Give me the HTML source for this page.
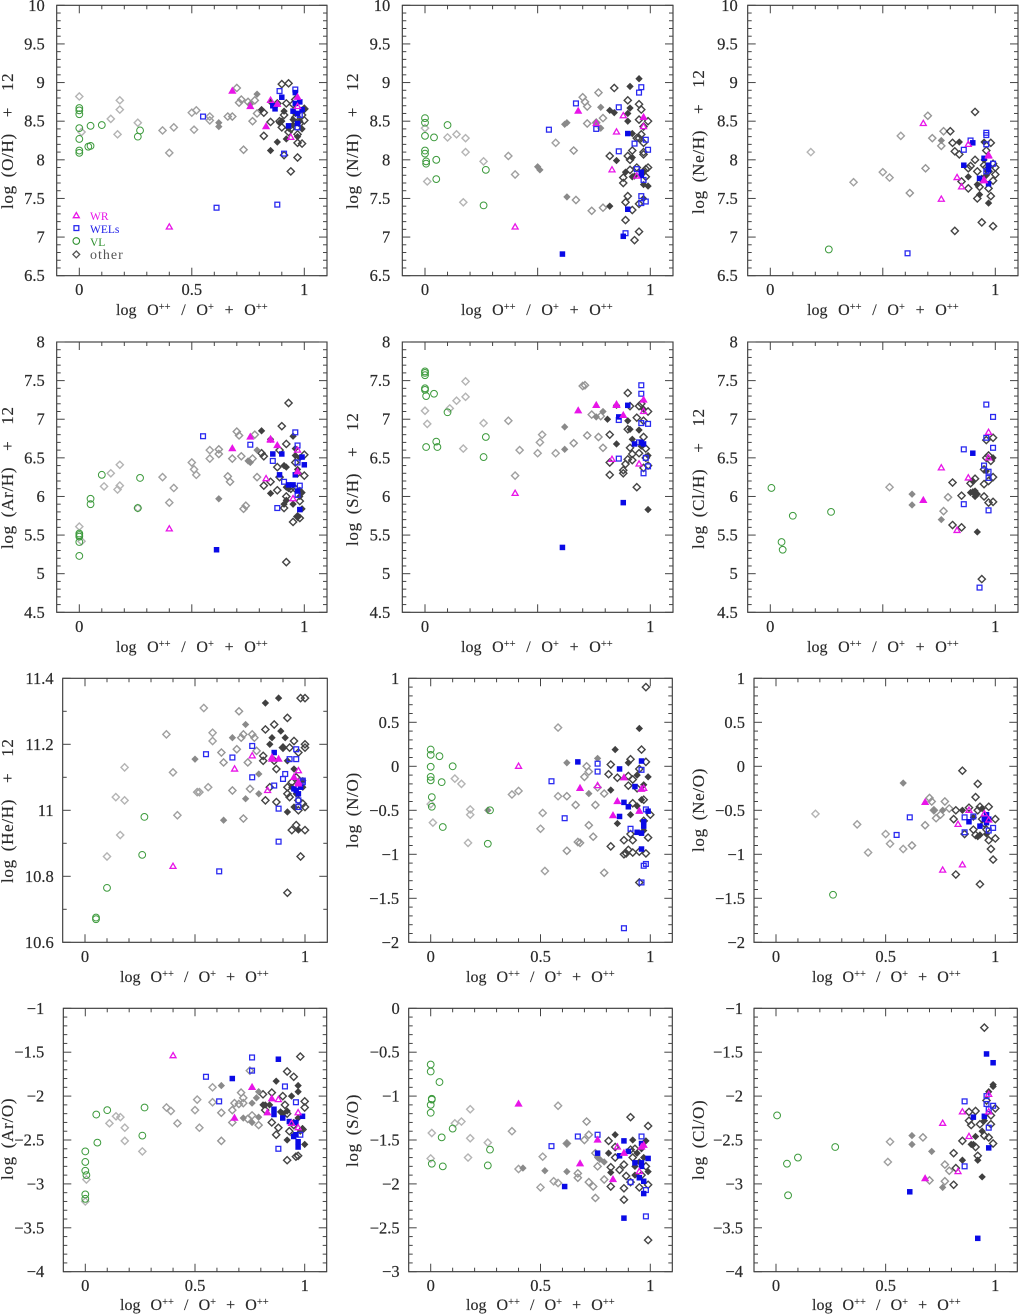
<!DOCTYPE html>
<html lang="en">
<head>
<meta charset="utf-8">
<title>Abundance ratios versus ionization parameter</title>
<style>
html,body{margin:0;padding:0;background:#fff;width:1019px;height:1314px;overflow:hidden}
svg{display:block}
text{font-family:"Liberation Serif",serif;fill:#2a2a2a}
.t{font-size:16.5px;stroke:#2a2a2a;stroke-width:.2}
.xl{font-size:16px;word-spacing:6.7px;stroke:#2a2a2a;stroke-width:.15}
.xs{font-size:16px;word-spacing:6.1px;stroke:#2a2a2a;stroke-width:.15}
.yl{font-size:17px;letter-spacing:.7px;word-spacing:3px;stroke:#2a2a2a;stroke-width:.15}
.sup{font-size:10.5px}
.lg{font-size:11.5px}
.lg2{font-size:14px;letter-spacing:1px}
</style>
</head>
<body>
<svg id="chart" xmlns="http://www.w3.org/2000/svg" width="1019" height="1314" viewBox="0 0 1019 1314" xml:space="preserve">
<g>
<text class="xl" x="116" y="315">log O<tspan class="sup" dy="-5">++</tspan><tspan dy="5"> / O</tspan><tspan class="sup" dy="-5">+</tspan><tspan dy="5"> + O</tspan><tspan class="sup" dy="-5">++</tspan></text>
<text class="xl" x="461" y="315">log O<tspan class="sup" dy="-5">++</tspan><tspan dy="5"> / O</tspan><tspan class="sup" dy="-5">+</tspan><tspan dy="5"> + O</tspan><tspan class="sup" dy="-5">++</tspan></text>
<text class="xl" x="807" y="315">log O<tspan class="sup" dy="-5">++</tspan><tspan dy="5"> / O</tspan><tspan class="sup" dy="-5">+</tspan><tspan dy="5"> + O</tspan><tspan class="sup" dy="-5">++</tspan></text>
<text class="xl" x="116" y="652">log O<tspan class="sup" dy="-5">++</tspan><tspan dy="5"> / O</tspan><tspan class="sup" dy="-5">+</tspan><tspan dy="5"> + O</tspan><tspan class="sup" dy="-5">++</tspan></text>
<text class="xl" x="461" y="652">log O<tspan class="sup" dy="-5">++</tspan><tspan dy="5"> / O</tspan><tspan class="sup" dy="-5">+</tspan><tspan dy="5"> + O</tspan><tspan class="sup" dy="-5">++</tspan></text>
<text class="xl" x="807" y="652">log O<tspan class="sup" dy="-5">++</tspan><tspan dy="5"> / O</tspan><tspan class="sup" dy="-5">+</tspan><tspan dy="5"> + O</tspan><tspan class="sup" dy="-5">++</tspan></text>
<text class="xs" x="120" y="982">log O<tspan class="sup" dy="-5">++</tspan><tspan dy="5"> / O</tspan><tspan class="sup" dy="-5">+</tspan><tspan dy="5"> + O</tspan><tspan class="sup" dy="-5">++</tspan></text>
<text class="xs" x="466" y="982">log O<tspan class="sup" dy="-5">++</tspan><tspan dy="5"> / O</tspan><tspan class="sup" dy="-5">+</tspan><tspan dy="5"> + O</tspan><tspan class="sup" dy="-5">++</tspan></text>
<text class="xs" x="812" y="982">log O<tspan class="sup" dy="-5">++</tspan><tspan dy="5"> / O</tspan><tspan class="sup" dy="-5">+</tspan><tspan dy="5"> + O</tspan><tspan class="sup" dy="-5">++</tspan></text>
<text class="xs" x="120" y="1310">log O<tspan class="sup" dy="-5">++</tspan><tspan dy="5"> / O</tspan><tspan class="sup" dy="-5">+</tspan><tspan dy="5"> + O</tspan><tspan class="sup" dy="-5">++</tspan></text>
<text class="xs" x="466" y="1310">log O<tspan class="sup" dy="-5">++</tspan><tspan dy="5"> / O</tspan><tspan class="sup" dy="-5">+</tspan><tspan dy="5"> + O</tspan><tspan class="sup" dy="-5">++</tspan></text>
<text class="xs" x="812" y="1310">log O<tspan class="sup" dy="-5">++</tspan><tspan dy="5"> / O</tspan><tspan class="sup" dy="-5">+</tspan><tspan dy="5"> + O</tspan><tspan class="sup" dy="-5">++</tspan></text>

<text class="yl" transform="translate(13,209) rotate(-90)">log (O/H)&#160;&#160;+&#160;&#160;12</text>
<text class="yl" transform="translate(358,209) rotate(-90)">log (N/H)&#160;&#160;+&#160;&#160;12</text>
<text class="yl" transform="translate(704,214) rotate(-90)">log (Ne/H)&#160;&#160;+&#160;&#160;12</text>
<text class="yl" transform="translate(13,549) rotate(-90)">log (Ar/H)&#160;&#160;+&#160;&#160;12</text>
<text class="yl" transform="translate(358,546) rotate(-90)">log (S/H)&#160;&#160;+&#160;&#160;12</text>
<text class="yl" transform="translate(704,549) rotate(-90)">log (Cl/H)&#160;&#160;+&#160;&#160;12</text>
<text class="yl" transform="translate(13,883) rotate(-90)">log (He/H)&#160;&#160;+&#160;&#160;12</text>
<text class="yl" transform="translate(358,848) rotate(-90)">log (N/O)</text>
<text class="yl" transform="translate(704,852) rotate(-90)">log (Ne/O)</text>
<text class="yl" transform="translate(13,1180) rotate(-90)">log (Ar/O)</text>
<text class="yl" transform="translate(358,1167) rotate(-90)">log (S/O)</text>
<text class="yl" transform="translate(704,1180) rotate(-90)">log (Cl/O)</text>
</g>
<g>
<polygon points="76.3,212.5 79.3,217.7 73.3,217.7" fill="none" stroke="#e815e8" stroke-width="1.3"/>
<text class="lg" x="90" y="220" style="fill:#e815e8">WR</text>
<rect x="74" y="225.7" width="4.8" height="4.8" fill="none" stroke="#2a2af0" stroke-width="1.3"/>
<text class="lg" x="90" y="233" style="fill:#2020e8">WELs</text>
<circle cx="76.3" cy="241" r="3.3" fill="none" stroke="#2d8f2d" stroke-width="1.1"/>
<text class="lg" x="90" y="246" style="fill:#2d8f2d">VL</text>
<polygon points="76.3,251 79.7,254.4 76.3,257.8 72.9,254.4" fill="none" stroke="#555" stroke-width="1.3"/>
<text class="lg2" x="90" y="259" style="fill:#555">other</text>
</g>
<g id="plots"></g>
</svg>
<script>
// ---- Tick values ----
const xTicksFull = [0, 0.5, 1];
const xTicksEnds = [0, 1];
const yTicksHigh = [6.5, 7, 7.5, 8, 8.5, 9, 9.5, 10];
const yTicksMid = [4.5, 5, 5.5, 6, 6.5, 7, 7.5, 8];
const yTicksHe = [10.6, 10.8, 11, 11.2, 11.4];
const yTicksNO = [-2, -1.5, -1, -0.5, 0, 0.5, 1];
const yTicksArO = [-4, -3.5, -3, -2.5, -2, -1.5, -1];
const yTicksSO = [-3, -2.5, -2, -1.5, -1, -0.5, 0];

// ---- log(O/H)+12 ----
const ohVL = [[0,8.67],[0,8.64],[0,8.59],[0,8.41],[0,8.27],[0,8.12],[0,8.09],[0.04,8.17],[0.05,8.18],[0.05,8.44],[0.1,8.45],[0.26,8.3],[0.27,8.38]];
const ohOpen = [[0,8.82],[0.01,8.36],[0.14,8.53],[0.17,8.33],[0.18,8.77],[0.18,8.65],[0.26,8.48],[0.37,8.38],[0.4,8.09],[0.42,8.42],[0.5,8.61],[0.51,8.39],[0.52,8.64],[0.58,8.56],[0.58,8.51],[0.66,8.56],[0.68,8.56],[0.7,8.93],[0.71,8.74],[0.72,8.78],[0.73,8.13],[0.75,8.75],[0.77,8.5],[0.78,8.77],[0.79,8.6],[0.82,8.61],[0.82,8.31],[0.85,8.49],[0.9,8.98],[0.93,8.99],[0.91,8.06],[0.97,8.03],[0.94,7.85],[0.88,8.73],[0.92,8.73],[0.91,8.58],[0.94,8.4],[0.93,8.36],[0.96,8.78],[0.96,8.55],[0.97,8.33],[0.97,8.22],[0.99,8.21],[1,8.66],[1,8.51],[0.99,8.58],[0.95,8.72],[0.9,8.42],[0.89,8.5],[0.98,8.47]];
const ohFilled = [[0.62,8.48],[0.62,8.43],[0.79,8.85],[0.76,8.72],[0.81,8.65],[0.85,8.75],[0.85,8.12],[0.88,8.23],[0.89,8.48],[0.91,8.63],[0.92,8.27],[0.9,8.5],[0.95,8.45],[0.96,8.6],[0.98,8.5],[0.99,8.4],[0.97,8.3],[0.93,8.41],[1,8.65],[0.95,8.52]];
const ohBlueOpen = [[0.55,8.56],[0.61,7.38],[0.88,7.42],[0.89,8.89],[0.96,8.91],[0.91,8.08],[0.97,8.42],[0.98,8.58]];
const ohBlueFilled = [[0.9,8.81],[0.86,8.7],[0.87,8.66],[0.93,8.44],[0.95,8.63],[0.96,8.87],[0.97,8.6],[0.98,8.75],[0.99,8.65],[0.97,8.47],[0.96,8.73]];
const ohMagOpen = [[0.4,7.13],[0.85,8.77],[0.94,8.29],[0.97,8.69]];
const ohMagFilled = [[0.68,8.89],[0.76,8.69],[0.83,8.43],[0.88,8.72],[0.97,8.81]];

// ---- log(N/H)+12 ----
const nhVL = [[0,8.54],[0,8.48],[0,8.31],[0,8.12],[0,8.08],[0.005,7.98],[0.005,7.95],[0.04,8.29],[0.05,8],[0.05,7.75],[0.1,8.45],[0.26,7.41],[0.27,7.87]];
const nhOpen = [[0,8.41],[0.01,7.72],[0.1,8.29],[0.14,8.33],[0.17,7.45],[0.18,8.28],[0.18,8.1],[0.26,7.98],[0.37,8.05],[0.4,7.81],[0.58,8.22],[0.66,8.12],[0.67,7.48],[0.7,8.81],[0.71,8.75],[0.72,8.69],[0.72,8.47],[0.74,7.34],[0.76,8.48],[0.77,8.87],[0.79,7.38],[0.79,8.54],[0.82,8.05],[0.84,8.93],[0.88,7.77],[0.88,7.7],[0.89,7.45],[0.89,7.22],[0.9,7.53],[0.9,8.05],[0.9,8.77],[0.92,7.35],[0.92,8.12],[0.94,8.28],[0.95,8.72],[0.96,8.65],[0.93,6.96],[0.95,7.07],[0.95,7.43],[0.99,8.5],[0.95,8.52],[0.97,8.43],[0.96,8.33],[0.97,8.1],[0.98,7.88],[0.99,7.9],[0.97,8.07],[0.94,7.9],[0.91,7.87],[0.91,8],[0.98,7.78],[0.95,8.28],[0.97,8.22]];
const nhFilled = [[0.5,7.91],[0.51,7.87],[0.62,8.46],[0.63,8.48],[0.63,7.52],[0.76,8.49],[0.78,8.41],[0.78,8.68],[0.82,8.64],[0.84,8.61],[0.85,7.99],[0.82,7.4],[0.9,8.6],[0.9,8.5],[0.91,8.67],[0.91,8.95],[0.95,9.05],[0.92,8.34],[0.89,7.84],[0.92,8.03],[0.92,7.78],[0.97,7.68],[0.99,7.66],[0.97,7.5],[0.93,7.79],[0.97,7.85]];
const nhBlueOpen = [[0.55,8.39],[0.67,8.73],[0.76,8.4],[0.86,8.68],[0.86,8.11],[0.89,7.05],[0.93,8.21],[0.95,8.87],[0.96,8.94],[0.98,8.26],[0.99,8.13],[0.94,7.88],[0.97,7.74],[0.96,7.53],[0.98,7.46],[0.96,7.44]];
const nhBlueFilled = [[0.61,6.78],[0.88,7.01],[0.9,7.36],[0.9,8.34],[0.96,7.84],[0.96,7.8]];
const nhMagOpen = [[0.4,7.13],[0.76,8.47],[0.85,8.36],[0.88,8.57],[0.83,7.87],[0.94,7.79],[0.97,8.43]];
const nhMagFilled = [[0.68,8.63],[0.97,8.55]];

// ---- log(Ne/H)+12 ----
const nehVL = [[0.26,6.84]];
const nehOpen = [[0.18,8.1],[0.37,7.71],[0.5,7.84],[0.53,7.77],[0.58,8.31],[0.62,7.57],[0.69,7.89],[0.7,8.57],[0.72,8.28],[0.76,8.18],[0.77,8.37],[0.8,8.37],[0.81,8.22],[0.82,8.11],[0.84,8.07],[0.85,7.72],[0.82,7.08],[0.88,7.63],[0.88,7.89],[0.89,7.92],[0.91,8],[0.92,7.85],[0.92,7.5],[0.93,7.65],[0.94,7.19],[0.91,8.62],[0.95,7.93],[0.96,7.9],[0.97,7.63],[0.98,7.53],[0.99,7.14],[0.99,7.73],[0.99,7.95],[1,7.9],[1,7.81],[0.98,8.22],[0.96,8.12],[0.97,7.85],[0.94,7.75]];
const nehFilled = [[0.76,8.25],[0.84,8.23],[0.88,7.78],[0.92,7.68],[0.93,7.55],[0.95,8.23],[0.96,7.8],[0.97,7.44],[0.95,8]];
const nehBlueOpen = [[0.61,6.79],[0.86,8.13],[0.89,8.25],[0.96,8.35],[0.96,8.32],[0.96,8.2],[0.99,7.95],[0.96,7.85]];
const nehBlueFilled = [[0.86,7.93],[0.9,8.22],[0.93,7.76],[0.95,8.02],[0.97,7.93],[0.97,7.87],[0.97,7.69]];
const nehMagOpen = [[0.68,8.47],[0.76,7.49],[0.83,7.77],[0.85,7.65],[0.88,8.2],[0.95,7.74],[0.97,8.05]];
const nehMagFilled = [[0.97,8.06],[0.95,7.73]];

// ---- log(Ar/H)+12 ----
const arhVL = [[0,5.52],[0,5.5],[0,5.48],[0,5.41],[0,5.23],[0.05,5.97],[0.05,5.9],[0.1,6.28],[0.26,5.85],[0.27,6.24]];
const arhOpen = [[0,5.61],[0.01,5.42],[0.11,6.13],[0.14,6.3],[0.17,6.09],[0.18,6.41],[0.18,6.14],[0.26,5.85],[0.37,6.25],[0.4,5.92],[0.42,6.11],[0.5,6.44],[0.51,6.35],[0.52,6.28],[0.58,6.49],[0.58,6.6],[0.62,6.61],[0.62,6.55],[0.66,6.26],[0.67,6.19],[0.68,6.49],[0.7,6.84],[0.71,6.79],[0.72,6.52],[0.73,5.84],[0.74,5.88],[0.77,6.49],[0.78,6.8],[0.79,6.25],[0.81,6.56],[0.82,6.52],[0.82,6.14],[0.85,6.19],[0.88,6.38],[0.88,6.08],[0.89,6.25],[0.9,6.91],[0.92,6.68],[0.93,7.21],[0.92,5.15],[0.91,5.85],[0.92,6],[0.95,5.67],[0.96,6.44],[0.97,6.3],[0.98,5.94],[1,6.27],[1,6.54],[0.97,5.74],[0.96,6.1],[0.94,6.1],[0.89,6.6],[0.98,5.72]];
const arhFilled = [[0.62,5.97],[0.76,6.44],[0.75,6.46],[0.79,6.6],[0.81,6.85],[0.85,6.74],[0.85,6.04],[0.91,6.4],[0.92,6.38],[0.92,6.12],[0.91,5.9],[0.92,5.95],[0.95,5.9],[0.95,6.78],[0.96,6.62],[0.96,6.53],[0.98,6.5],[0.98,6.08],[0.99,6.05],[0.99,5.84],[0.97,5.74],[0.98,6],[0.97,6.35],[0.93,6.1]];
const arhBlueOpen = [[0.55,6.78],[0.76,6.67],[0.86,6.46],[0.88,5.85],[0.91,6.19],[0.96,6.83],[0.97,6.66],[0.97,6.44],[0.98,6.14],[0.97,6.02]];
const arhBlueFilled = [[0.61,5.31],[0.86,6.55],[0.89,6.28],[0.9,6.55],[0.93,6.15],[0.95,6.15],[0.96,6.28],[0.97,6.07],[0.98,5.83],[0.99,6.51],[1,6.41]];
const arhMagOpen = [[0.4,5.58],[0.83,6.23],[0.85,6.74],[0.95,5.97],[0.97,6.6]];
const arhMagFilled = [[0.68,6.62],[0.76,6.77],[0.88,6.66],[0.97,6.32],[0.85,6.73]];

// ---- log(S/H)+12 ----
const shVL = [[0,7.62],[0,7.6],[0,7.57],[0,7.4],[0,7.38],[0.005,7.3],[0.04,7.33],[0.005,6.64],[0.05,6.71],[0.055,6.64],[0.1,7.09],[0.26,6.51],[0.27,6.77]];
const shOpen = [[0,7.11],[0.01,6.94],[0.11,7.14],[0.14,7.24],[0.17,6.62],[0.18,7.29],[0.18,7.49],[0.26,6.95],[0.37,6.98],[0.4,6.27],[0.42,6.6],[0.5,6.56],[0.51,6.7],[0.52,6.8],[0.58,6.56],[0.66,6.69],[0.7,7.43],[0.71,7.44],[0.72,6.79],[0.74,7.06],[0.77,6.77],[0.79,6.63],[0.78,7.04],[0.82,6.8],[0.82,6.44],[0.82,6.28],[0.88,6.34],[0.88,6.3],[0.89,6.42],[0.9,6.48],[0.9,6.87],[0.9,7.34],[0.91,7.17],[0.92,6.55],[0.92,6.47],[0.91,6.63],[0.94,7.02],[0.95,7.17],[0.95,6.56],[0.94,6.12],[0.97,6.37],[0.97,6.77],[0.97,6.98],[0.98,6.62],[0.99,7.1],[0.99,6.4],[0.96,7.2],[0.98,6.5]];
const shFilled = [[0.62,6.9],[0.62,6.61],[0.76,7.03],[0.79,7.1],[0.81,7],[0.85,6.68],[0.85,7.18],[0.9,6.98],[0.91,6.87],[0.92,6.74],[0.95,6.86],[0.96,6.65],[0.99,6.53],[0.99,5.83],[0.97,7.13]];
const shBlueOpen = [[0.86,6.49],[0.86,6.99],[0.96,7.44],[0.96,7.33],[0.96,6.95],[0.97,6.3],[0.98,6.5],[0.99,6.94],[0.99,6.39],[0.95,6.7]];
const shBlueFilled = [[0.61,5.34],[0.88,5.92],[0.86,7.03],[0.9,7.18],[0.93,6.68],[0.96,6.7],[0.97,6.68]];
const shMagOpen = [[0.4,6.04],[0.83,6.48],[0.85,7.18],[0.95,6.42],[0.97,7.1]];
const shMagFilled = [[0.68,7.11],[0.76,7.18],[0.88,7.05],[0.97,7.25],[0.85,7.19]];

// ---- log(Cl/H)+12 ----
const clhVL = [[0.005,6.11],[0.05,5.41],[0.055,5.31],[0.1,5.75],[0.27,5.8]];
const clhOpen = [[0.53,6.12],[0.77,5.81],[0.79,5.99],[0.81,5.63],[0.81,6.18],[0.85,6.01],[0.85,5.6],[0.89,6.17],[0.91,6.23],[0.94,4.93],[0.95,6],[0.95,6.16],[0.96,6.5],[0.96,6.73],[0.97,5.92],[0.99,5.93],[0.99,6.25],[0.99,6.76],[0.97,6.2],[0.95,6.35],[0.98,6.46],[0.97,6.53]];
const clhFilled = [[0.63,6.03],[0.63,5.89],[0.76,5.7],[0.9,6.2],[0.89,6.05],[0.9,6.06],[0.91,6.07],[0.92,6.03],[0.91,6],[0.92,5.54],[0.99,6.5],[0.96,6.33]];
const clhBlueOpen = [[0.86,6.61],[0.86,5.9],[0.93,4.82],[0.96,7.19],[0.96,6.76],[0.99,7.03],[0.99,6.63],[0.95,6.4],[0.97,6.32],[0.97,6.24],[0.97,5.82]];
const clhBlueFilled = [[0.9,6.56]];
const clhMagOpen = [[0.76,6.37],[0.83,5.56],[0.88,6.24],[0.97,6.83],[0.97,6.5]];
const clhMagFilled = [[0.68,5.95]];

// ---- log(He/H)+12 ----
const hehVL = [[0.05,10.675],[0.05,10.67],[0.1,10.765],[0.26,10.865],[0.27,10.98]];
const hehOpen = [[0.1,10.86],[0.14,11.04],[0.16,10.925],[0.18,11.13],[0.18,11.03],[0.37,11.23],[0.4,11.115],[0.42,10.985],[0.51,11.055],[0.52,11.055],[0.56,11.07],[0.54,11.31],[0.58,11.21],[0.58,11.235],[0.62,11.175],[0.63,11.145],[0.67,11.06],[0.69,11.185],[0.7,11.3],[0.71,11.22],[0.72,10.975],[0.72,11.23],[0.74,11.145],[0.75,11.065],[0.76,11.23],[0.77,11.22],[0.78,11.18],[0.81,11.165],[0.81,11.15],[0.82,11.245],[0.82,11.03],[0.84,11.07],[0.86,11.26],[0.86,11.15],[0.87,11.125],[0.87,11.025],[0.9,11.19],[0.92,10.75],[0.92,11.28],[0.93,11.19],[0.94,11.085],[0.95,11.21],[0.94,10.94],[0.96,10.955],[0.97,11.175],[0.98,11.34],[1,11.34],[1,11.2],[1,11.19],[1,10.94],[0.98,10.86],[0.99,11.02],[0.97,11],[0.96,11.1],[0.92,11.07],[0.92,11.05],[0.93,11.04],[0.97,11.03],[1,11.01]];
const hehFilled = [[0.5,11.155],[0.63,10.97],[0.67,11.22],[0.73,11.26],[0.73,11.035],[0.79,11.11],[0.79,11.05],[0.82,11.325],[0.88,11.34],[0.85,11.22],[0.84,11.2],[0.89,11.24],[0.9,11.19],[0.91,11.22],[0.95,11.125],[0.92,11.15],[0.92,10.995],[0.95,11.01],[0.97,10.94],[0.99,11.09],[0.99,11.07],[0.96,11.05],[0.94,11.07]];
const hehBlueOpen = [[0.55,11.17],[0.61,10.815],[0.67,11.16],[0.76,11.195],[0.76,11.1],[0.86,11.075],[0.88,10.905],[0.88,11.005],[0.9,11.095],[0.91,11.11],[0.93,11.155],[0.96,11.185],[0.96,11.155],[0.99,11.09],[0.99,11.085],[0.97,11.03],[0.97,11.01]];
const hehBlueFilled = [[0.86,11.175],[0.95,11.065],[0.96,11.06],[0.97,11.05],[0.98,11.07]];
const hehMagOpen = [[0.4,10.83],[0.68,11.125],[0.76,11.165],[0.83,11.06],[0.85,11.16],[0.97,11.12],[0.97,11.085]];
const hehMagFilled = [[0.88,11.155],[0.85,11.155],[0.95,11.1],[0.97,11.08]];

// ---- log(N/O) ----
const noVL = [[0,0.19],[0,0.13],[0,-0.005],[0,-0.12],[0,-0.16],[0.04,0.115],[0.05,-0.18],[0.005,-0.35],[0.005,-0.46],[0.055,-0.69],[0.1,0],[0.26,-0.88],[0.27,-0.5]];
const noOpen = [[0,-0.43],[0.01,-0.64],[0.11,-0.14],[0.14,-0.2],[0.17,-0.87],[0.18,-0.49],[0.18,-0.55],[0.37,-0.32],[0.4,-0.28],[0.5,-0.71],[0.51,-0.53],[0.52,-1.19],[0.58,-0.34],[0.58,0.44],[0.62,-0.34],[0.62,-0.96],[0.66,-0.44],[0.67,-0.86],[0.68,-0.87],[0.7,-0.12],[0.71,0],[0.72,-0.06],[0.72,-0.67],[0.74,-0.8],[0.75,-0.44],[0.76,-0.24],[0.79,-0.31],[0.79,-1.21],[0.81,-0.09],[0.82,-0.91],[0.82,0.02],[0.85,-0.13],[0.88,-0.84],[0.88,-1],[0.89,-0.99],[0.9,-0.11],[0.9,-0.22],[0.9,-0.95],[0.91,0.08],[0.92,-0.15],[0.92,-0.84],[0.92,-0.98],[0.92,-0.42],[0.94,-0.25],[0.95,-1.32],[0.95,-0.97],[0.96,0.19],[0.97,-0.38],[0.97,-0.62],[0.98,0.05],[0.98,-0.99],[0.98,0.9],[0.99,-0.81],[1,-0.55],[0.91,-0.77],[0.95,-0.03]];
const noFilled = [[0.26,-0.5],[0.62,0.04],[0.72,-0.31],[0.76,0.09],[0.82,-0.27],[0.84,0.19],[0.85,-0.65],[0.9,0.04],[0.95,0.43],[0.91,-0.55],[0.94,-0.45],[0.94,-0.1],[0.97,-0.21],[0.96,-0.38],[0.99,-0.12],[0.97,-0.73]];
const noBlueOpen = [[0.55,-0.17],[0.61,-0.59],[0.76,0.03],[0.76,-0.06],[0.88,-1.84],[0.91,-0.71],[0.96,-0.04],[0.96,-1.32],[0.97,-1.13],[0.98,-1.11],[0.98,-0.49]];
const noBlueFilled = [[0.67,0.05],[0.86,-0.57],[0.86,-0.03],[0.88,-0.41],[0.9,-0.46],[0.93,-0.23],[0.94,-0.75],[0.96,-0.76],[0.96,-0.94],[0.96,0.06],[0.97,-0.63],[0.97,-0.68],[0.99,-0.51]];
const noMagOpen = [[0.4,0],[0.76,-0.22],[0.97,-0.25]];
const noMagFilled = [[0.68,-0.25],[0.83,-0.56],[0.85,-0.4],[0.88,-0.13],[0.95,-0.51],[0.96,-0.26]];

// ---- log(Ne/O) ----
const neoVL = [[0.26,-1.46]];
const neoOpen = [[0.18,-0.54],[0.37,-0.66],[0.42,-0.98],[0.5,-0.77],[0.52,-0.88],[0.58,-0.94],[0.62,-0.9],[0.68,-0.67],[0.7,-0.36],[0.71,-0.4],[0.72,-0.5],[0.73,-0.59],[0.75,-0.55],[0.77,-0.4],[0.79,-0.48],[0.81,-0.6],[0.82,-0.5],[0.82,-1.23],[0.85,-0.05],[0.86,-0.77],[0.88,-0.47],[0.9,-0.72],[0.91,-0.35],[0.92,-0.2],[0.92,-0.5],[0.93,-1.34],[0.94,-0.6],[0.97,-0.46],[0.97,-0.84],[0.98,-0.94],[0.99,-1.06],[1,-0.82],[1,-0.6],[0.96,-0.72],[0.93,-0.46],[0.95,-0.65],[0.91,-0.78]];
const neoFilled = [[0.58,-0.19],[0.72,-0.5],[0.76,-0.5],[0.85,-0.5],[0.92,-0.8],[0.93,-0.78],[0.94,-0.48],[0.96,-0.77],[0.9,-0.58]];
const neoBlueOpen = [[0.55,-0.78],[0.61,-0.58],[0.86,-0.58],[0.86,-0.75],[0.9,-0.57],[0.97,-0.73],[0.99,-0.7]];
const neoBlueFilled = [[0.88,-0.63],[0.93,-0.68],[0.95,-0.6],[0.96,-0.55],[0.96,-0.64],[0.97,-0.6]];
const neoMagOpen = [[0.76,-1.18],[0.83,-0.66],[0.85,-1.12],[0.88,-0.5],[0.95,-0.54],[0.97,-0.61]];
const neoMagFilled = [[0.68,-0.41]];

// ---- log(Ar/O) ----
const aroVL = [[0,-2.63],[0,-2.75],[0,-2.85],[0.005,-2.9],[0,-3.12],[0,-3.17],[0.05,-2.21],[0.055,-2.53],[0.1,-2.16],[0.26,-2.45],[0.27,-2.13]];
const aroOpen = [[0.005,-2.95],[0,-3.2],[0.11,-2.31],[0.14,-2.23],[0.16,-2.24],[0.18,-2.36],[0.18,-2.51],[0.26,-2.63],[0.37,-2.13],[0.39,-2.17],[0.42,-2.31],[0.5,-2.16],[0.51,-2.04],[0.52,-2.36],[0.58,-2.07],[0.58,-1.9],[0.62,-2.19],[0.62,-2.51],[0.67,-2.16],[0.68,-2.08],[0.67,-2.3],[0.7,-2.09],[0.71,-1.96],[0.72,-2.02],[0.72,-2.08],[0.75,-1.71],[0.74,-2.26],[0.76,-2.22],[0.79,-2.33],[0.81,-1.98],[0.82,-2.16],[0.85,-1.96],[0.85,-2.3],[0.87,-2.44],[0.88,-2.36],[0.9,-2],[0.91,-2.1],[0.92,-1.72],[0.92,-2.73],[0.93,-2.4],[0.95,-1.78],[0.96,-2.69],[0.97,-2.68],[0.98,-1.55],[1,-2.06],[1,-2.13],[0.95,-2.33],[0.99,-2.38],[0.92,-2.2]];
const aroFilled = [[0.62,-1.88],[0.72,-2.25],[0.76,-2.08],[0.76,-2.3],[0.78,-2.02],[0.79,-1.95],[0.79,-2.24],[0.81,-2.1],[0.82,-2.1],[0.84,-2.1],[0.89,-2.18],[0.87,-1.83],[0.92,-2.5],[0.9,-2.2],[0.94,-2],[0.95,-2.3],[0.97,-1.88],[0.97,-1.95],[0.97,-2.25],[0.98,-2.4],[0.99,-2.37],[1,-2.55],[0.95,-2.45],[0.92,-2.17]];
const aroBlueOpen = [[0.55,-1.78],[0.61,-2.06],[0.76,-1.56],[0.76,-1.71],[0.88,-2.6],[0.91,-1.89],[0.96,-2.07],[0.98,-2.44]];
const aroBlueFilled = [[0.67,-1.8],[0.88,-1.58],[0.86,-2.15],[0.86,-2.21],[0.9,-2.25],[0.93,-2.29],[0.96,-2.3],[0.95,-2.46],[0.96,-2.44],[0.97,-2.52],[0.97,-2.58],[0.99,-2.23]];
const aroMagOpen = [[0.4,-1.54],[0.88,-2.04],[0.94,-2.31],[0.97,-2.19],[0.97,-2.36]];
const aroMagFilled = [[0.76,-1.9],[0.68,-2.25],[0.85,-2.03],[0.83,-2.19]];

// ---- log(S/O) ----
const soVL = [[0,-0.64],[0,-0.72],[0.005,-1.03],[0.005,-1.04],[0,-1.1],[0,-1.19],[0.04,-0.84],[0.05,-1.47],[0.005,-1.77],[0.055,-1.8],[0.1,-1.37],[0.26,-1.79],[0.27,-1.61]];
const soOpen = [[0,-1.71],[0.005,-1.42],[0.11,-1.31],[0.14,-1.29],[0.17,-1.7],[0.18,-1.15],[0.18,-1.48],[0.26,-1.53],[0.37,-1.4],[0.4,-1.83],[0.5,-2.04],[0.51,-1.69],[0.56,-1.97],[0.58,-1.99],[0.58,-1.11],[0.62,-1.54],[0.67,-1.88],[0.67,-1.93],[0.7,-1.5],[0.71,-1.29],[0.72,-1.44],[0.72,-1.98],[0.74,-2.03],[0.75,-1.65],[0.75,-2.16],[0.76,-1.8],[0.79,-1.95],[0.81,-1.51],[0.82,-2.03],[0.82,-1.81],[0.84,-1.58],[0.84,-1.7],[0.86,-1.84],[0.88,-1.78],[0.88,-2.05],[0.88,-2.18],[0.89,-1.91],[0.91,-1.98],[0.91,-1.24],[0.92,-1.7],[0.93,-1.6],[0.95,-2.04],[0.98,-1.8],[0.99,-1.34],[0.99,-2.01],[0.99,-2.64],[0.96,-1.9],[0.91,-1.61]];
const soFilled = [[0.42,-1.82],[0.52,-1.85],[0.62,-1.54],[0.62,-1.86],[0.76,-1.7],[0.77,-1.72],[0.79,-1.75],[0.81,-1.65],[0.84,-1.44],[0.82,-1.87],[0.92,-1.5],[0.96,-1.6],[0.98,-1.51],[0.94,-1.65],[0.93,-1.8],[0.97,-1.7],[0.95,-1.75],[0.99,-1.86],[0.93,-1.9]];
const soBlueOpen = [[0.55,-1.57],[0.67,-1.46],[0.76,-1.44],[0.91,-1.98],[0.96,-1.46],[0.98,-2.07],[0.98,-2.37]];
const soBlueFilled = [[0.61,-2.03],[0.76,-1.65],[0.86,-1.68],[0.88,-1.51],[0.9,-1.63],[0.88,-2.39],[0.93,-1.76],[0.95,-1.93],[0.96,-1.76],[0.97,-1.97],[0.97,-2.11],[0.99,-1.71],[0.96,-1.54],[0.96,-1.8]];
const soMagOpen = [[0.85,-1.58],[0.95,-1.86]];
const soMagFilled = [[0.4,-1.09],[0.68,-1.77],[0.76,-1.5],[0.83,-1.95],[0.88,-1.65],[0.97,-1.56],[0.96,-1.58]];

// ---- log(Cl/O) ----
const cloVL = [[0.005,-2.22],[0.05,-2.77],[0.055,-3.13],[0.1,-2.7],[0.27,-2.58]];
const cloOpen = [[0.51,-2.75],[0.52,-2.52],[0.67,-2.47],[0.7,-2.96],[0.77,-2.97],[0.77,-2.78],[0.79,-2.85],[0.81,-2.65],[0.81,-3.01],[0.82,-2.82],[0.85,-2.51],[0.88,-2.18],[0.88,-2.28],[0.89,-2.33],[0.91,-2.58],[0.91,-2.17],[0.92,-2.68],[0.93,-2.32],[0.95,-1.22],[0.95,-2.45],[0.96,-2.05],[0.97,-2.47],[0.98,-2.22],[0.98,-2.32],[0.99,-2.54],[1,-2.14]];
const cloFilled = [[0.62,-2.45],[0.62,-2.55],[0.71,-2.63],[0.76,-3.04],[0.85,-2.73],[0.9,-2.55],[0.91,-2.46],[0.92,-2.73],[0.94,-2.92],[0.94,-2.4],[0.95,-2.28],[0.97,-1.95],[0.99,-1.87],[0.99,-1.89],[0.89,-2.55]];
const cloBlueOpen = [[0.86,-2.06],[0.86,-2.8],[0.96,-2],[0.96,-2.09],[0.97,-2.15],[0.99,-2.11],[0.97,-2.36]];
const cloBlueFilled = [[0.61,-3.09],[0.9,-2.24],[0.92,-3.62],[0.95,-2.23],[0.96,-1.52],[0.97,-2.59],[0.99,-1.62]];
const cloMagOpen = [[0.76,-2.31],[0.83,-2.86],[0.85,-2.18],[0.88,-2.46],[0.97,-1.98],[0.97,-2.18]];
const cloMagFilled = [[0.68,-2.94]];

// ---- Panel layout ----
const layouts = [
 {id:'oh', l:56.7,r:327,t:5.3,b:275.7,x0:79.3,x1:304.3,yMin:6.5,yMax:10,yTicks:yTicksHigh,xTicks:xTicksFull,minor:0.1,off:12,xBase:295},
 {id:'nh', l:402.3,r:673,t:5.3,b:275.7,x0:425,x1:650.3,yMin:6.5,yMax:10,yTicks:yTicksHigh,xTicks:xTicksEnds,minor:0.1,off:12,xBase:295},
 {id:'neh',l:747.7,r:1018,t:5.3,b:275.7,x0:770.3,x1:995.3,yMin:6.5,yMax:10,yTicks:yTicksHigh,xTicks:xTicksEnds,minor:0.1,off:10,xBase:295},
 {id:'arh',l:56.7,r:327,t:342,b:612.3,x0:79.3,x1:304.3,yMin:4.5,yMax:8,yTicks:yTicksMid,xTicks:xTicksEnds,minor:0.1,off:12,xBase:632},
 {id:'sh', l:402.3,r:673,t:342,b:612.3,x0:425,x1:650.3,yMin:4.5,yMax:8,yTicks:yTicksMid,xTicks:xTicksEnds,minor:0.1,off:12,xBase:632},
 {id:'clh',l:747.7,r:1018,t:342,b:612.3,x0:770.3,x1:995.3,yMin:4.5,yMax:8,yTicks:yTicksMid,xTicks:xTicksEnds,minor:0.1,off:10,xBase:632},
 {id:'heh',l:62.7,r:327.3,t:678.3,b:942.3,x0:85,x1:305,yMin:10.6,yMax:11.4,yTicks:yTicksHe,xTicks:xTicksEnds,minor:0.1,off:9,xBase:962},
 {id:'no', l:408.7,r:672.3,t:678.3,b:942.3,x0:430.7,x1:650.3,yMin:-2,yMax:1,yTicks:yTicksNO,xTicks:xTicksFull,minor:0.1,off:9.5,xBase:962},
 {id:'neo',l:754,r:1017.3,t:678.3,b:942.3,x0:776,x1:995.3,yMin:-2,yMax:1,yTicks:yTicksNO,xTicks:xTicksFull,minor:0.1,off:9,xBase:962},
 {id:'aro',l:63.3,r:326.7,t:1008.3,b:1271.7,x0:85.3,x1:304.7,yMin:-4,yMax:-1,yTicks:yTicksArO,xTicks:xTicksFull,minor:0.1,off:19,xBase:1291},
 {id:'so', l:408.7,r:672.3,t:1008.3,b:1271.7,x0:430.7,x1:650.3,yMin:-3,yMax:0,yTicks:yTicksSO,xTicks:xTicksFull,minor:0.1,off:9,xBase:1291},
 {id:'clo',l:754,r:1017.3,t:1008.3,b:1271.7,x0:776,x1:995.3,yMin:-4,yMax:-1,yTicks:yTicksArO,xTicks:xTicksFull,minor:0.1,off:11,xBase:1291}
];
const seriesByPanel = {
 oh:[ohOpen,ohFilled,ohVL,ohBlueOpen,ohBlueFilled,ohMagOpen,ohMagFilled],
 nh:[nhOpen,nhFilled,nhVL,nhBlueOpen,nhBlueFilled,nhMagOpen,nhMagFilled],
 neh:[nehOpen,nehFilled,nehVL,nehBlueOpen,nehBlueFilled,nehMagOpen,nehMagFilled],
 arh:[arhOpen,arhFilled,arhVL,arhBlueOpen,arhBlueFilled,arhMagOpen,arhMagFilled],
 sh:[shOpen,shFilled,shVL,shBlueOpen,shBlueFilled,shMagOpen,shMagFilled],
 clh:[clhOpen,clhFilled,clhVL,clhBlueOpen,clhBlueFilled,clhMagOpen,clhMagFilled],
 heh:[hehOpen,hehFilled,hehVL,hehBlueOpen,hehBlueFilled,hehMagOpen,hehMagFilled],
 no:[noOpen,noFilled,noVL,noBlueOpen,noBlueFilled,noMagOpen,noMagFilled],
 neo:[neoOpen,neoFilled,neoVL,neoBlueOpen,neoBlueFilled,neoMagOpen,neoMagFilled],
 aro:[aroOpen,aroFilled,aroVL,aroBlueOpen,aroBlueFilled,aroMagOpen,aroMagFilled],
 so:[soOpen,soFilled,soVL,soBlueOpen,soBlueFilled,soMagOpen,soMagFilled],
 clo:[cloOpen,cloFilled,cloVL,cloBlueOpen,cloBlueFilled,cloMagOpen,cloMagFilled]
};

const NS = 'http://www.w3.org/2000/svg';
const root = document.getElementById('plots');
function mk(tag, parent, attrs) {
  const el = document.createElementNS(NS, tag);
  for (const k in attrs) el.setAttribute(k, attrs[k]);
  parent.appendChild(el);
  return el;
}
function tickText(v) {
  return String(v).replace('-', '\u2212');
}
function openShade(x) {
  if (x < 0.3) return '#b4b4b4';
  if (x < 0.6) return '#a0a0a0';
  if (x < 0.8) return '#969696';
  return '#444444';
}
function filledShade(x) {
  return x < 0.8 ? '#8a8a8a' : '#404040';
}
function drawDiamond(g, px, py, r, fill, stroke, sw, name) {
  const pts = px + ',' + (py-r) + ' ' + (px+r) + ',' + py + ' ' + px + ',' + (py+r) + ' ' + (px-r) + ',' + py;
  const el = mk('polygon', g, {points:pts, fill:fill, stroke:stroke, 'stroke-width':sw});
  
  
}
function drawSquare(g, px, py, h, fill, stroke, name) {
  const el = mk('rect', g, {x:px-h, y:py-h, width:2*h, height:2*h, fill:fill, stroke:stroke, 'stroke-width':1.3});
  
  
}
function drawTriangle(g, px, py, fill, stroke, name) {
  const pts = (px) + ',' + (py-3.2) + ' ' + (px+3) + ',' + (py+2) + ' ' + (px-3) + ',' + (py+2);
  const el = mk('polygon', g, {points:pts, fill:fill, stroke:stroke, 'stroke-width':1.3});
  
  
}
function drawCircle(g, px, py, name) {
  const el = mk('circle', g, {cx:px, cy:py, r:3.4, fill:'none', stroke:'#3c9a3c', 'stroke-width':1});
  
  
}

layouts.forEach(function (p) {
  const sx = function (v) { return p.x0 + v * (p.x1 - p.x0); };
  const sy = function (v) { return p.b - (v - p.yMin) / (p.yMax - p.yMin) * (p.b - p.t); };
  const g = mk('g', root, {});
  
  

  const frame = mk('rect', g, {x:p.l, y:p.t, width:p.r-p.l, height:p.b-p.t, fill:'none', stroke:'#333', 'stroke-width':1.1});
  
  

  // x ticks every 0.1, major at 0, 0.5, 1
  for (let i = 0; i <= 10; i++) {
    const v = i / 10;
    const major = (i % 5 === 0);
    const len = major ? 8 : 4;
    const px = sx(v);
    [[p.b, p.b-len], [p.t, p.t+len]].forEach(function (s) {
      const t = mk('line', g, {x1:px, x2:px, y1:s[0], y2:s[1], stroke:'#444', 'stroke-width':1});
      
      
    });
  }
  p.xTicks.forEach(function (v) {
    const t = mk('text', g, {x:sx(v), y:p.xBase, class:'t', 'text-anchor':'middle'});
    t.textContent = tickText(v);
    
    
  });

  // y ticks
  const span = p.yMax - p.yMin;
  const nMinor = Math.round(span / p.minor);
  for (let i = 0; i <= nMinor; i++) {
    const v = p.yMin + i * p.minor;
    const major = p.yTicks.some(function (m) { return Math.abs(m - v) < 1e-6; });
    const len = major ? 8 : 4;
    const py = sy(v);
    [[p.l, p.l+len], [p.r, p.r-len]].forEach(function (s) {
      const t = mk('line', g, {x1:s[0], x2:s[1], y1:py, y2:py, stroke:'#444', 'stroke-width':1});
      
      
    });
  }
  p.yTicks.forEach(function (v) {
    const t = mk('text', g, {x:p.l-p.off, y:sy(v)+5.5, class:'t', 'text-anchor':'end'});
    t.textContent = tickText(v);
    
    
  });

  // marks
  const s = seriesByPanel[p.id];
  s[0].forEach(function (d) { drawDiamond(g, sx(d[0]), sy(d[1]), 3.6, 'none', openShade(d[0]), 1.4, 'other-point'); });
  s[1].forEach(function (d) { drawDiamond(g, sx(d[0]), sy(d[1]), 2.9, filledShade(d[0]), filledShade(d[0]), 1.1, 'other-point-filled'); });
  s[2].forEach(function (d) { drawCircle(g, sx(d[0]), sy(d[1]), 'vl-point'); });
  s[3].forEach(function (d) { drawSquare(g, sx(d[0]), sy(d[1]), 2.4, 'none', '#2a2af0', 'wels-point'); });
  s[4].forEach(function (d) { drawSquare(g, sx(d[0]), sy(d[1]), 2.1, '#0a0ae6', '#0a0ae6', 'wels-point-filled'); });
  s[5].forEach(function (d) { drawTriangle(g, sx(d[0]), sy(d[1]), 'none', '#e815e8', 'wr-point'); });
  s[6].forEach(function (d) { drawTriangle(g, sx(d[0]), sy(d[1]), '#e815e8', '#e815e8', 'wr-point-filled'); });
});
</script>
</body>
</html>
